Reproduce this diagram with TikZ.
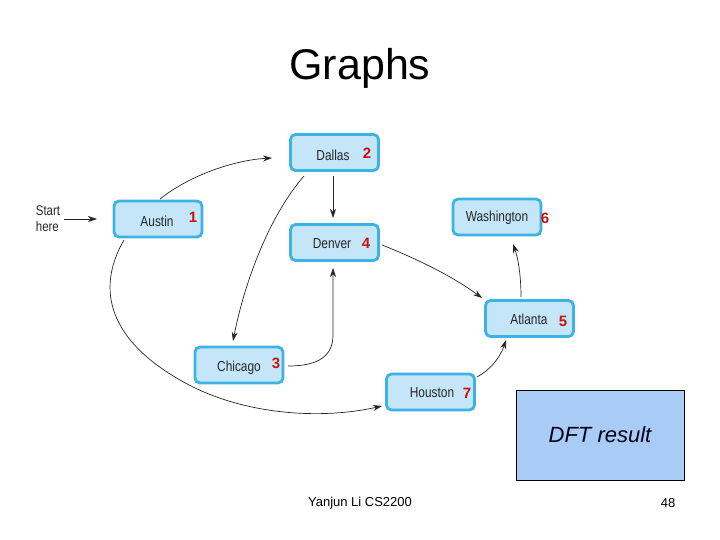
\documentclass[tikz,border=0pt]{standalone}
\usepackage{fontspec}
\setmainfont{Liberation Sans}
\newfontfamily\narrowfont[FakeStretch=0.82]{Liberation Sans}
\usetikzlibrary{arrows.meta}
\definecolor{boxfill}{HTML}{C4E6F8}
\definecolor{boxline}{HTML}{3DB2E4}
\definecolor{numred}{HTML}{CC1010}
\definecolor{dftfill}{HTML}{A9CCF7}
\begin{document}
\begin{tikzpicture}[x=1pt,y=-1pt,
  city/.style={draw=boxline, fill=boxfill, line width=2.8pt, rounded corners=5pt,
    minimum width=88pt, minimum height=36pt, inner sep=0pt},
  ctext/.style={font=\narrowfont\fontsize{14.5}{14.5}\selectfont, text=black!85},
  num/.style={font=\bfseries\fontsize{15}{15}\selectfont, text=numred},
  edge/.style={-{Stealth[length=9pt,width=6pt]}, line width=0.7pt, black!85}]
\useasboundingbox (0,0) rectangle (720,540);
\node[font=\fontsize{43}{43}\selectfont] (title) at (360,68) {Graphs};

% cities
\node[city] (dallas) at (334.5,152.5) {};
\node[city] (austin) at (158,219) {};
\node[city] (denver) at (334.5,242.5) {};
\node[city] (wash) at (497,217) {};
\node[city] (atlanta) at (529.5,318.5) {};
\node[city] (chicago) at (239,365) {};
\node[city] (houston) at (430.5,392) {};

\node[ctext] (tdallas) at (333,155) {Dallas};
\node[num] (ndallas) at (367,153) {2};
\node[ctext] (taustin) at (157,221) {Austin};
\node[num] (naustin) at (193,217) {1};
\node[ctext] (tdenver) at (332,244) {Denver};
\node[num] (ndenver) at (366,243) {4};
\node[ctext] (twash) at (497,218) {Washington};
\node[num] (nwash) at (545,218) {6};
\node[ctext] (tatlanta) at (529,319) {Atlanta};
\node[num] (natlanta) at (563,321) {5};
\node[ctext] (tchicago) at (239,368) {Chicago};
\node[num] (nchicago) at (276,363) {3};
\node[ctext] (thouston) at (432,393) {Houston};
\node[num] (nhouston) at (467,393) {7};

\node[ctext, align=left, font=\narrowfont\fontsize{14}{16}\selectfont] (start) at (48,219) {Start\\here};

% edges
\coordinate (s1) at (64,219);
\coordinate (s2) at (97,219);
\draw[edge] (s1) -- (s2);
\coordinate (a1) at (160,199);
\coordinate (a2) at (272,158);
\draw[edge] (a1) .. controls (190,175) and (235,160) .. (a2);
\coordinate (d1) at (333,176);
\coordinate (d2) at (333,218);
\draw[edge] (d1) -- (d2);
\coordinate (dc1) at (304,176);
\coordinate (dc2) at (233,341);
\draw[edge] (dc1) .. controls (270,215) and (245,280) .. (dc2);
\coordinate (cd1) at (288,366);
\coordinate (cd2) at (333,268);
\draw[edge] (cd1) .. controls (320,366) and (333,355) .. (333,335) -- (cd2);
\coordinate (da1) at (382,245);
\coordinate (da2) at (482,298);
\draw[edge] (da1) .. controls (420,260) and (455,278) .. (da2);
\coordinate (aw1) at (521,297);
\coordinate (aw2) at (513,244);
\draw[edge] (aw1) .. controls (521,275) and (518,258) .. (aw2);
\coordinate (ha1) at (477,377);
\coordinate (ha2) at (506,340);
\draw[edge] (ha1) .. controls (490,370) and (500,358) .. (ha2);
\coordinate (ah1) at (124,240);
\coordinate (ah2) at (382,406);
\draw[edge] (ah1) .. controls (95,290) and (110,340) .. (180,380) .. controls (240,415) and (320,420) .. (ah2);

% DFT box
\node[draw=black, fill=dftfill, line width=0.8pt, minimum width=168pt, minimum height=90pt,
  font=\itshape\fontsize{22}{22}\selectfont, text=black!90!blue] (dft) at (600,435) {DFT result};

% footer
\node[font=\fontsize{13}{13}\selectfont] (foot) at (360,503) {Yanjun Li CS2200};
\node[font=\fontsize{13}{13}\selectfont] (page) at (668,503) {48};
\end{tikzpicture}
\end{document}
